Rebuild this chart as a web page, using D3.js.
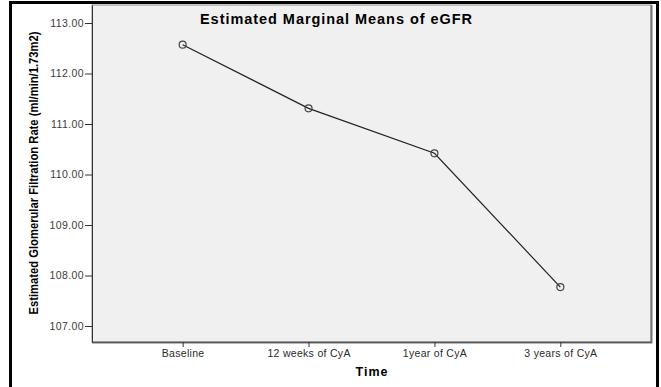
<!DOCTYPE html>
<html>
<head>
<meta charset="utf-8">
<script src="https://cdn.jsdelivr.net/npm/d3@7"></script>
<style>
	body { margin: 0; background: #fff; }
	svg { display: block; font-family: "Liberation Sans", Arial, sans-serif; }
</style>
</head>
<body>
<div id="chart"></div>
<script>
// Estimated marginal means of eGFR over time
const categories = ["Baseline", "12 weeks of CyA", "1year of CyA", "3 years of CyA"]
const means = [112.57, 111.31, 110.42, 107.77]
const yTicks = [107, 108, 109, 110, 111, 112, 113]

const width = 661, height = 387
const plot = { left: 92, top: 5, right: 651, bottom: 342 }

const svg = d3.select("#chart").append("svg")
	.attr("width", width)
	.attr("height", height)

// outer frame (bottom edge is cut off in the original)
svg.append("path")
	.attr("d", `M10.5,${height} V2.5 H657.5 V${height}`)
	.attr("fill", "none")
	.attr("stroke", "#000")
	.attr("stroke-width", 3)

const x = d3.scalePoint()
	.domain(categories)
	.range([plot.left, plot.right])
	.padding(0.72)

const y = d3.scaleLinear()
	.domain([113 + (23 - plot.top) / 50.5, 113 - (plot.bottom - 23) / 50.5])
	.range([plot.top, plot.bottom])

// plot background
svg.append("rect")
	.attr("x", plot.left)
	.attr("y", plot.top)
	.attr("width", plot.right - plot.left)
	.attr("height", plot.bottom - plot.top)
	.attr("fill", "#f0f0f0")
	.attr("stroke", "#8a8a8a")
	.attr("stroke-width", 1)

// shadow on right / bottom sides
svg.append("path")
	.attr("d", `M${plot.left},${plot.bottom + 0.5} H${plot.right + 0.5} V${plot.top}`)
	.attr("fill", "none")
	.attr("stroke", "#777")
	.attr("stroke-width", 2)

// axes
const yAxis = svg.append("g")
	.attr("transform", `translate(${plot.left},0)`)
	.call(d3.axisLeft(y).tickValues(yTicks).tickFormat(d3.format(".2f")).tickSize(7).tickSizeOuter(0))
yAxis.select(".domain").attr("stroke", "#333")
yAxis.selectAll(".tick line").attr("stroke", "#333")
yAxis.selectAll(".tick text")
	.attr("fill", "#3a3a3a")
	.attr("x", -8)
	.style("font-size", "10.5px")
	.style("letter-spacing", "0.4px")
	.style("font-family", "Liberation Sans, Arial, sans-serif")

const xAxis = svg.append("g")
	.attr("transform", `translate(0,${plot.bottom})`)
	.call(d3.axisBottom(x).tickSize(5).tickSizeOuter(0))
xAxis.select(".domain").attr("stroke", "#555")
xAxis.selectAll(".tick line").attr("stroke", "#333")
xAxis.selectAll(".tick text")
	.attr("fill", "#2a2a2a")
	.attr("y", 8)
	.style("font-size", "10.5px")
	.style("letter-spacing", "0.3px")
	.style("font-family", "Liberation Sans, Arial, sans-serif")

// mean line + markers
const points = categories.map((c, i) => ({ cat: c, value: means[i] }))

svg.append("path")
	.datum(points)
	.attr("fill", "none")
	.attr("stroke", "#222")
	.attr("stroke-width", 1.2)
	.attr("d", d3.line().x(d => x(d.cat)).y(d => y(d.value)))

svg.selectAll("circle.mean")
	.data(points)
	.join("circle")
	.attr("class", "mean")
	.attr("cx", d => x(d.cat))
	.attr("cy", d => y(d.value))
	.attr("r", 3.5)
	.attr("fill", "none")
	.attr("stroke", "#444")
	.attr("stroke-width", 1.2)

// titles
svg.append("text")
	.attr("x", 200)
	.attr("y", 24)
	.attr("textLength", 272)
	.attr("lengthAdjust", "spacing")
	.style("font-size", "14.5px")
	.style("font-weight", "bold")
	.text("Estimated Marginal Means of eGFR")

svg.append("text")
	.attr("x", 372)
	.attr("y", 376)
	.attr("text-anchor", "middle")
	.style("font-size", "12.5px")
	.style("font-weight", "bold")
	.style("letter-spacing", "1px")
	.text("Time")

svg.append("text")
	.attr("transform", "translate(38,173) rotate(-90)")
	.attr("text-anchor", "middle")
	.attr("textLength", 283)
	.attr("lengthAdjust", "spacingAndGlyphs")
	.style("font-size", "12.5px")
	.style("font-weight", "bold")
	.text("Estimated Glomerular Filtration Rate (ml/min/1.73m2)")
</script>
</body>
</html>
